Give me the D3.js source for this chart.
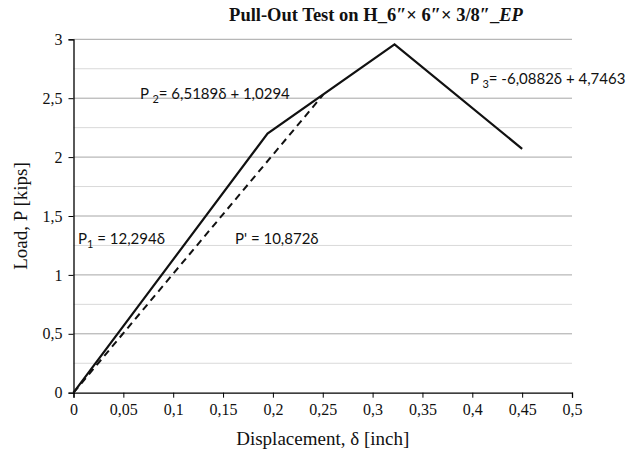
<!DOCTYPE html>
<html>
<head>
<meta charset="utf-8">
<script src="https://cdn.jsdelivr.net/npm/d3@7/dist/d3.min.js"></script>
<style>
  html, body { margin: 0; padding: 0; background: #fff; }
  svg { display: block; }
</style>
</head>
<body>
<svg id="chart" width="627" height="458"></svg>
<script>
// Measured load–displacement path (solid) and secant line (dashed)
const pathDisp = [0, 0.1946, 0.322, 0.45];
const pathLoad = [0, 2.20, 2.957, 2.07];
const secantDisp = [0, 0.2503];
const secantLoad = [0, 2.528];

const xTicks = [0, 0.05, 0.1, 0.15, 0.2, 0.25, 0.3, 0.35, 0.4, 0.45, 0.5];
const yTicks = [0, 0.5, 1, 1.5, 2, 2.5, 3];
const yMinor = [0.25, 0.75, 1.25, 1.75, 2.25, 2.75];

const title = "Pull-Out Test on H_6\u2033\u00d7 6\u2033\u00d7 3/8\u2033_";
const titleItalic = "EP";
const xLabel = "Displacement, \u03b4 [inch]";
const yLabel = "Load, P [kips]";

const svg = d3.select("#chart");
const m = { left: 73.5, right: 572, top: 39.3, bottom: 392.7 };

const x = d3.scaleLinear().domain([0, 0.5]).range([m.left, m.right]);
const y = d3.scaleLinear().domain([0, 3]).range([m.bottom, m.top]);

const fmt = d => String(d).replace(".", ",");
const serif = "'Liberation Serif', 'Times New Roman', serif";
const sans = "Lato, 'Open Sans', sans-serif";

// grid
svg.append("g").selectAll("line").data(yMinor).join("line")
  .attr("x1", m.left).attr("x2", m.right)
  .attr("y1", d => y(d)).attr("y2", d => y(d))
  .attr("stroke", "#d9d9d9").attr("stroke-width", 1);
svg.append("g").selectAll("line").data(yTicks.filter(d => d > 0)).join("line")
  .attr("x1", m.left).attr("x2", m.right)
  .attr("y1", d => y(d)).attr("y2", d => y(d))
  .attr("stroke", "#a6a6a6").attr("stroke-width", 1);

// axes
const xAxis = svg.append("g")
  .attr("transform", `translate(0,${m.bottom})`)
  .call(d3.axisBottom(x).tickValues(xTicks).tickFormat(fmt).tickSize(5).tickPadding(6));
const yAxis = svg.append("g")
  .attr("transform", `translate(${m.left},0)`)
  .call(d3.axisLeft(y).tickValues(yTicks).tickFormat(fmt).tickSize(5).tickPadding(6));
[xAxis, yAxis].forEach(a => {
  a.select(".domain").attr("stroke", "#000").attr("stroke-width", 1.3);
  a.selectAll(".tick line").attr("stroke", "#000");
  a.selectAll(".tick text").attr("font-family", serif).attr("font-size", 16).attr("fill", "#111");
});

// curves
const line = d3.line().x(d => x(d[0])).y(d => y(d[1]));
svg.append("path")
  .datum(secantDisp.map((d, i) => [d, secantLoad[i]]))
  .attr("d", line).attr("fill", "none")
  .attr("stroke", "#111").attr("stroke-width", 2).attr("stroke-dasharray", "7,5");
svg.append("path")
  .datum(pathDisp.map((d, i) => [d, pathLoad[i]]))
  .attr("d", line).attr("fill", "none")
  .attr("stroke", "#111").attr("stroke-width", 2.2).attr("stroke-linejoin", "miter");

// equation labels
function eq(xp, yp, sub, rest, pre) {
  const t = svg.append("text").attr("x", xp).attr("y", yp)
    .attr("font-family", sans).attr("font-size", 15).attr("fill", "#111");
  t.append("tspan").text(pre);
  if (sub) t.append("tspan").attr("dy", 3.5).attr("font-size", 11).text(sub);
  t.append("tspan").attr("dy", sub ? -3.5 : 0).text(rest);
}
eq(78, 244, "1", " = 12,294\u03b4", "P");
eq(235, 244, null, "P' = 10,872\u03b4", "");
eq(140, 99, "2", "= 6,5189\u03b4 + 1,0294", "P ");
eq(470, 84, "3", "= -6,0882\u03b4 + 4,7463", "P ");

// title
const tt = svg.append("text").attr("x", 376).attr("y", 21).attr("text-anchor", "middle")
  .attr("font-family", serif).attr("font-size", 18.5).attr("font-weight", "bold").attr("fill", "#111");
tt.append("tspan").text(title);
tt.append("tspan").attr("font-style", "italic").text(titleItalic);

// axis titles
svg.append("text").attr("x", (m.left + m.right) / 2).attr("y", 445).attr("text-anchor", "middle")
  .attr("font-family", serif).attr("font-size", 19).attr("fill", "#111").text(xLabel);
svg.append("text").attr("transform", `translate(27,${(m.top + m.bottom) / 2}) rotate(-90)`)
  .attr("text-anchor", "middle")
  .attr("font-family", serif).attr("font-size", 19).attr("fill", "#111").text(yLabel);
</script>
</body>
</html>
